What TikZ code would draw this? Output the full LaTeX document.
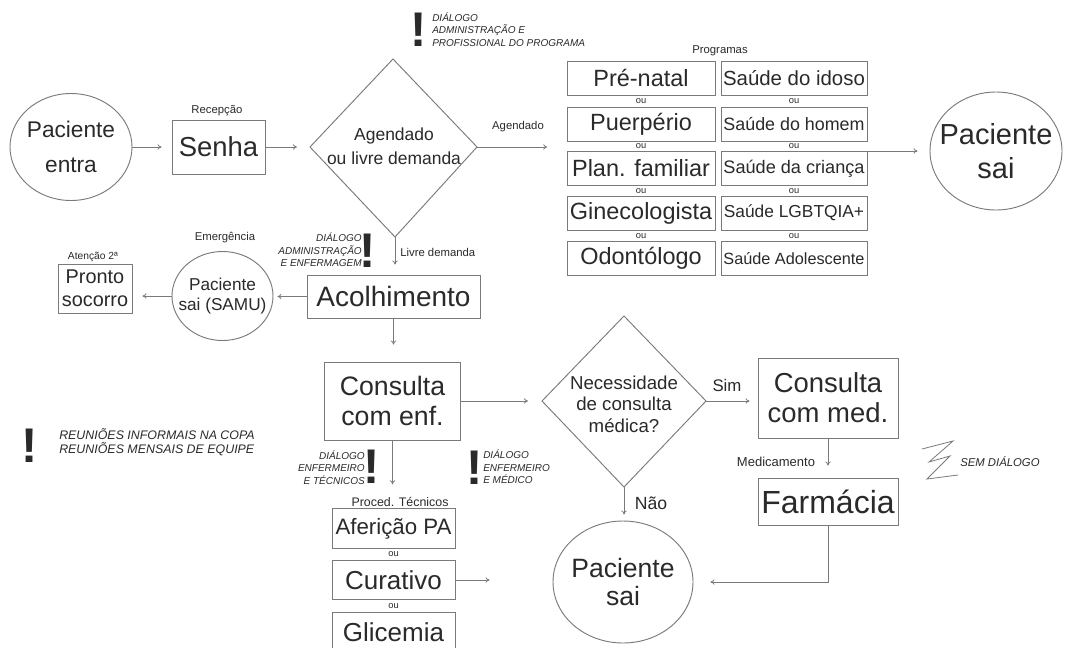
\documentclass[tikz,border=0pt]{standalone}
\usepackage{fontspec}
\setmainfont{Liberation Sans}
\usetikzlibrary{arrows.meta,fit,calc,shapes.geometric}
\definecolor{txt}{HTML}{2A2A2A}
\definecolor{ln}{HTML}{7A7A7A}
\newcommand{\fsz}[2]{\fontsize{#1pt}{#2pt}\selectfont}
\newcommand{\zw}[1]{\makebox[0pt]{#1}}
\begin{document}
\begin{tikzpicture}[x=0.75pt,y=-0.75pt,
  every node/.style={text=txt},
  box/.style={draw=ln, line width=0.7pt, inner sep=0pt, align=center},
  ell/.style={draw=ln, line width=0.7pt, ellipse, inner sep=0pt, align=center},
  arr/.style={draw=ln, line width=0.6pt, -{To[length=3pt,width=4pt]}},
  lbl/.style={inner sep=0pt, font=\fsz{8.5}{10}},
  oulbl/.style={inner sep=0pt, font=\fsz{7}{8}},
  note/.style={inner sep=0pt, font=\itshape\fsz{7.5}{9.4}},
  bang/.style={inner sep=0pt, font=\bfseries\fsz{36.5}{36.5}},
]
\useasboundingbox (0,0) rectangle (1065,647);
\fill[white] (0,0) rectangle (1065,647);

% --- top row ---
\node[ell, minimum width=91.5pt, minimum height=80.25pt, font=\fsz{17}{26}] (pe) at (71,147) {\zw{Paciente}\\\zw{entra}};
\node[box, minimum width=69.75pt, minimum height=40.5pt, font=\fsz{20.6}{24}] (senha) at (218.5,147) {Senha};
\node[lbl] (recep) at (217,111) {Recepção};

\coordinate (d1t) at (393,59);
\coordinate (d1r) at (477,147);
\coordinate (d1b) at (395,237);
\coordinate (d1l) at (310,147);
\draw[draw=ln, line width=0.7pt] (d1t) -- (d1r) -- (d1b) -- (d1l) -- cycle;
\node[inner sep=0pt, align=center, font=\fsz{13.1}{18}] (d1txt) at (394,146) {Agendado\\ou livre demanda};

\node[bang] (b1) at (419,29.5) {!};
\node[note, anchor=west, align=left] (n1) at (432,29.5) {DIÁLOGO\\ADMINISTRAÇÃO E\\PROFISSIONAL DO PROGRAMA};

\node[lbl] (agl) at (518,127) {Agendado};
\node[lbl] (progl) at (720,51) {Programas};

% program boxes
\tikzset{pl/.style={box, minimum width=111pt, minimum height=25.5pt, font=\fsz{17.6}{20}},
         pr/.style={box, minimum width=109.5pt, minimum height=25.5pt}}
\node[pl] (p1) at (641,78) {Pré-natal};
\node[pl] (p2) at (641,124) {Puerpério};
\node[pl] (p3) at (641,168.5) {Plan. familiar};
\node[pl] (p4) at (641,213) {Ginecologista};
\node[pl] (p5) at (641,258.5) {Odontólogo};
\node[pr, font=\fsz{15.3}{18}] (q1) at (794,78) {Saúde do idoso};
\node[pr, font=\fsz{13.4}{16}] (q2) at (794,124) {Saúde do homem};
\node[pr, font=\fsz{13.6}{16}] (q3) at (794,168.5) {Saúde da criança};
\node[pr, font=\fsz{13}{16}] (q4) at (794,213) {Saúde LGBTQIA+};
\node[pr, font=\fsz{12.2}{16}] (q5) at (794,258.5) {Saúde Adolescente};
\foreach \y/\n in {101/1,146/2,191/3,236/4}{
  \node[oulbl] (ol\n) at (641,\y) {ou};
  \node[oulbl] (or\n) at (794,\y) {ou};
}
\node[fit=(p1)(q5), inner sep=0pt] (progs) {};

\node[ell, minimum width=99pt, minimum height=88.5pt, font=\fsz{21.75}{26}] (ps1) at (996,151) {\zw{Paciente}\\\zw{sai}};

% --- middle ---
\node[box, minimum width=129.75pt, minimum height=32.25pt, font=\fsz{21}{24}] (acolh) at (393.5,296.5) {Acolhimento};
\node[lbl, anchor=west] (livre) at (400,252) {Livre demanda};
\node[bang] (b2) at (368,251) {!};
\node[note, anchor=east, align=right] (n2) at (362,250) {DIÁLOGO\\ADMINISTRAÇÃO\\E ENFERMAGEM};

\node[ell, minimum width=75.75pt, minimum height=66.75pt, font=\fsz{12.9}{15}] (samu) at (222.5,296) {\zw{Paciente}\\\zw{sai (SAMU)}};
\node[lbl] (emerg) at (225,238) {Emergência};
\node[box, minimum width=55.5pt, minimum height=36.75pt, font=\fsz{14.9}{17}] (pronto) at (95,288.5) {Pronto\\socorro};
\node[lbl, font=\fsz{7.7}{9}] (aten) at (93,257) {Atenção 2ª};

% --- lower ---
\node[box, minimum width=102pt, minimum height=58.5pt, font=\fsz{20}{22.5}] (cenf) at (392.5,401) {Consulta\\com enf.};

\coordinate (d2t) at (624,316);
\coordinate (d2r) at (706,401);
\coordinate (d2b) at (624,487);
\coordinate (d2l) at (542,401);
\draw[draw=ln, line width=0.7pt] (d2t) -- (d2r) -- (d2b) -- (d2l) -- cycle;
\node[inner sep=0pt, align=center, font=\fsz{14}{16}] (d2txt) at (624,404) {Necessidade\\de consulta\\médica?};

\node[box, minimum width=105pt, minimum height=60pt, font=\fsz{20.6}{22.5}] (cmed) at (828,398) {Consulta\\com med.};
\node[box, minimum width=105pt, minimum height=35.25pt, font=\fsz{24}{26}] (farm) at (828,501.5) {Farmácia};
\node[lbl, font=\fsz{12.6}{14}] (sim) at (727,385) {Sim};
\node[lbl, font=\fsz{13.2}{14}] (nao) at (651,503) {Não};
\node[lbl, font=\fsz{9.75}{11}] (medic) at (776,462) {Medicamento};

\node[ell, minimum width=105pt, minimum height=91.5pt, font=\fsz{19.9}{21}] (ps2) at (623,582) {\zw{Paciente}\\\zw{sai}};

\node[lbl, font=\fsz{9.3}{11}] (proced) at (400,502) {Proced. Técnicos};
\tikzset{pt/.style={box, minimum width=92.25pt, minimum height=29.6pt}}
\node[pt, font=\fsz{16.7}{19}] (afer) at (393.5,528.5) {Aferição PA};
\node[pt, font=\fsz{19.5}{22}] (cur) at (393.5,580) {Curativo};
\node[pt, font=\fsz{19.5}{22}] (gli) at (393.5,632) {Glicemia};
\node[oulbl] (ou5) at (393.5,554) {ou};
\node[oulbl] (ou6) at (393.5,606) {ou};

\node[bang] (b3) at (372,467) {!};
\node[note, anchor=east, align=right] (n3) at (365,467.5) {DIÁLOGO\\ENFERMEIRO\\E TÉCNICOS};
\node[bang] (b4) at (475,467.5) {!};
\node[note, anchor=west, align=left] (n4) at (483,467) {DIÁLOGO\\ENFERMEIRO\\E MÉDICO};

\node[bang] (b5) at (30,445.5) {!};
\node[note, anchor=west, align=left, font=\itshape\fsz{9.3}{10.5}] (n5) at (59,442) {REUNIÕES INFORMAIS NA COPA\\REUNIÕES MENSAIS DE EQUIPE};

\draw[draw=ln, line width=0.6pt] (922,449) -- (953,441) -- (929,462) -- (950,456) -- (927,479) -- (958,475);
\node[note, anchor=west, font=\itshape\fsz{8.5}{9}] (sem) at (960,462) {SEM DIÁLOGO};

% --- connectors ---
\draw[arr, shorten >=7.5pt] (pe) -- (senha);
\draw[arr, shorten >=9.75pt] (senha) -- (d1l);
\draw[arr, shorten >=14.25pt] (d1r) -- (d1r -| progs.west);
\draw[arr, shorten >=9pt] (progs.east |- ps1) -- (ps1);
\draw[arr, shorten >=7.5pt] (d1b) -- (d1b |- acolh.north);
\draw[arr, shorten >=3pt] (acolh.west) -- (acolh.west -| samu.east);
\draw[arr, shorten >=7.5pt] (samu.west) -- (samu.west -| pronto.east);
\draw[arr, shorten >=12.75pt] (acolh.south) -- (acolh.south |- cenf.north);
\draw[arr, shorten >=10.5pt] (cenf) -- (d2l);
\draw[arr, shorten >=6pt] (d2r) -- (d2r -| cmed.west);
\draw[arr, shorten >=4.5pt] (d2b) -- (d2b |- ps2.north);
\draw[arr, shorten >=9pt] (cmed) -- (farm);
\draw[arr, shorten >=12.75pt] (farm.south) |- (ps2.east);
\draw[arr, shorten >=47.25pt] (cur.east) -- (cur.east -| ps2.west);
\draw[arr, shorten >=18pt] (cenf.south) -- (cenf.south |- afer.north);
\end{tikzpicture}
\end{document}
